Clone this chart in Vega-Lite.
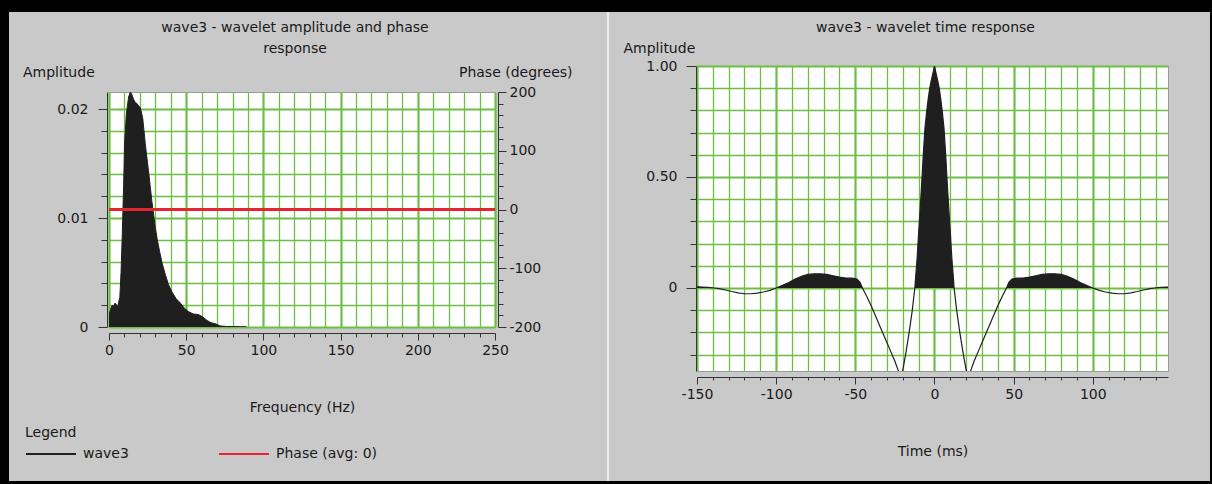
{
  "$schema": "https://vega.github.io/schema/vega-lite/v6.json",
  "background": "#c9c9c9",
  "padding": 0,
  "spacing": 0,
  "config": {
    "font": "DejaVu Sans",
    "view": {"fill": "white", "stroke": "#9a9a9a", "strokeWidth": 1},
    "axis": {
      "labelFont": "DejaVu Sans", "labelFontSize": 14, "labelColor": "#1a1a1a",
      "titleFont": "DejaVu Sans", "titleFontSize": 14, "titleFontWeight": "normal", "titleColor": "#1a1a1a",
      "domainColor": "#333333", "tickColor": "#333333", "gridColor": "#6cbf45", "gridOpacity": 1,
      "labelFlush": false, "labelOverlap": false, "tickCount": 200
    },
    "title": {"font": "DejaVu Sans", "fontSize": 14, "fontWeight": "normal", "color": "#1a1a1a"},
    "legend": {
      "titleFont": "DejaVu Sans", "titleFontSize": 14, "titleFontWeight": "normal", "titleColor": "#1a1a1a",
      "labelFont": "DejaVu Sans", "labelFontSize": 14, "labelColor": "#1a1a1a"
    }
  },
  "datasets": {
    "spectrum": [
      {"freq": 0, "amp": 0.0011}, {"freq": 1, "amp": 0.0016}, {"freq": 2, "amp": 0.002}, {"freq": 3, "amp": 0.0019},
      {"freq": 4, "amp": 0.0022}, {"freq": 5, "amp": 0.002}, {"freq": 5.6, "amp": 0.0018}, {"freq": 6.3, "amp": 0.0023},
      {"freq": 7, "amp": 0.0027}, {"freq": 7.8, "amp": 0.005}, {"freq": 8.6, "amp": 0.0085}, {"freq": 9.5, "amp": 0.0131},
      {"freq": 10.1, "amp": 0.0168}, {"freq": 11.2, "amp": 0.0195}, {"freq": 12.7, "amp": 0.0211}, {"freq": 13.8, "amp": 0.02156},
      {"freq": 14.6, "amp": 0.0214}, {"freq": 15.9, "amp": 0.0209}, {"freq": 17, "amp": 0.0206}, {"freq": 18.1, "amp": 0.0205},
      {"freq": 19.2, "amp": 0.0203}, {"freq": 20.3, "amp": 0.0201}, {"freq": 21.8, "amp": 0.0192}, {"freq": 22.6, "amp": 0.0181},
      {"freq": 23.5, "amp": 0.0168}, {"freq": 24.5, "amp": 0.0156}, {"freq": 25.6, "amp": 0.0143}, {"freq": 26.7, "amp": 0.0129},
      {"freq": 27.8, "amp": 0.0115}, {"freq": 29, "amp": 0.0102}, {"freq": 30, "amp": 0.0091}, {"freq": 31.3, "amp": 0.008},
      {"freq": 32.8, "amp": 0.0069}, {"freq": 34.5, "amp": 0.0058}, {"freq": 36.5, "amp": 0.0048}, {"freq": 38.5, "amp": 0.0039},
      {"freq": 40.8, "amp": 0.0032}, {"freq": 43.5, "amp": 0.0026}, {"freq": 46.2, "amp": 0.0022}, {"freq": 49, "amp": 0.0017},
      {"freq": 51.6, "amp": 0.0014}, {"freq": 54.5, "amp": 0.0012}, {"freq": 58, "amp": 0.00114}, {"freq": 61, "amp": 0.0009},
      {"freq": 63.5, "amp": 0.0006}, {"freq": 66, "amp": 0.0004}, {"freq": 68.8, "amp": 0.0003}, {"freq": 72, "amp": 0.0001},
      {"freq": 76, "amp": 0.00005}, {"freq": 80, "amp": 0.00004}, {"freq": 85, "amp": 0.00003}, {"freq": 89, "amp": 0.00002}
    ],
    "phase": [
      {"freq": 0, "phase": 0}, {"freq": 250, "phase": 0}
    ],
    "wavelet": [
      {"time": -150, "amp": 0.005}, {"time": -147, "amp": 0.004}, {"time": -143, "amp": 0.003}, {"time": -139, "amp": 0},
      {"time": -136, "amp": -0.003}, {"time": -132, "amp": -0.009}, {"time": -128, "amp": -0.016}, {"time": -124, "amp": -0.022},
      {"time": -120, "amp": -0.026}, {"time": -116, "amp": -0.026}, {"time": -112, "amp": -0.023}, {"time": -108, "amp": -0.018},
      {"time": -104, "amp": -0.011}, {"time": -100, "amp": 0}, {"time": -96, "amp": 0.012}, {"time": -92, "amp": 0.025},
      {"time": -88, "amp": 0.04}, {"time": -84, "amp": 0.052}, {"time": -80, "amp": 0.061}, {"time": -76, "amp": 0.064},
      {"time": -72, "amp": 0.064}, {"time": -68, "amp": 0.061}, {"time": -64, "amp": 0.055}, {"time": -60, "amp": 0.049},
      {"time": -56, "amp": 0.045}, {"time": -52, "amp": 0.044}, {"time": -49, "amp": 0.04}, {"time": -47, "amp": 0.025},
      {"time": -45.5, "amp": 0}, {"time": -43, "amp": -0.035}, {"time": -40, "amp": -0.08}, {"time": -37, "amp": -0.13},
      {"time": -34, "amp": -0.18}, {"time": -31, "amp": -0.23}, {"time": -28, "amp": -0.28}, {"time": -25, "amp": -0.33},
      {"time": -23, "amp": -0.37}, {"time": -21.5, "amp": -0.4}, {"time": -20, "amp": -0.37}, {"time": -18, "amp": -0.29},
      {"time": -16, "amp": -0.2}, {"time": -14, "amp": -0.1}, {"time": -12.4, "amp": 0}, {"time": -12, "amp": 0.04},
      {"time": -11, "amp": 0.13}, {"time": -10, "amp": 0.25}, {"time": -9, "amp": 0.36}, {"time": -8, "amp": 0.48},
      {"time": -7, "amp": 0.61}, {"time": -6, "amp": 0.72}, {"time": -5, "amp": 0.79}, {"time": -4, "amp": 0.85},
      {"time": -3, "amp": 0.9}, {"time": -2, "amp": 0.935}, {"time": -1, "amp": 0.967}, {"time": 0, "amp": 1.0},
      {"time": 1, "amp": 0.967}, {"time": 2, "amp": 0.935}, {"time": 3, "amp": 0.9}, {"time": 4, "amp": 0.85},
      {"time": 5, "amp": 0.79}, {"time": 6, "amp": 0.72}, {"time": 7, "amp": 0.61}, {"time": 8, "amp": 0.48},
      {"time": 9, "amp": 0.36}, {"time": 10, "amp": 0.25}, {"time": 11, "amp": 0.13}, {"time": 12, "amp": 0.04},
      {"time": 12.4, "amp": 0}, {"time": 14, "amp": -0.1}, {"time": 16, "amp": -0.2}, {"time": 18, "amp": -0.29},
      {"time": 20, "amp": -0.37}, {"time": 21.5, "amp": -0.4}, {"time": 23, "amp": -0.37}, {"time": 25, "amp": -0.33},
      {"time": 28, "amp": -0.28}, {"time": 31, "amp": -0.23}, {"time": 34, "amp": -0.18}, {"time": 37, "amp": -0.13},
      {"time": 40, "amp": -0.08}, {"time": 43, "amp": -0.035}, {"time": 45.5, "amp": 0}, {"time": 47, "amp": 0.025},
      {"time": 49, "amp": 0.04}, {"time": 52, "amp": 0.044}, {"time": 56, "amp": 0.045}, {"time": 60, "amp": 0.049},
      {"time": 64, "amp": 0.055}, {"time": 68, "amp": 0.061}, {"time": 72, "amp": 0.064}, {"time": 76, "amp": 0.064},
      {"time": 80, "amp": 0.061}, {"time": 84, "amp": 0.052}, {"time": 88, "amp": 0.04}, {"time": 92, "amp": 0.025},
      {"time": 96, "amp": 0.012}, {"time": 100, "amp": 0}, {"time": 104, "amp": -0.011}, {"time": 108, "amp": -0.018},
      {"time": 112, "amp": -0.023}, {"time": 116, "amp": -0.026}, {"time": 120, "amp": -0.026}, {"time": 124, "amp": -0.022},
      {"time": 128, "amp": -0.016}, {"time": 132, "amp": -0.009}, {"time": 136, "amp": -0.003}, {"time": 139, "amp": 0},
      {"time": 143, "amp": 0.003}, {"time": 147, "amp": 0.004}, {"time": 150, "amp": 0.005}
    ],
    "spacer": [{"k": 0}]
  },
  "vconcat": [
    {
      "width": 1212, "height": 12,
      "view": {"fill": "#000000", "stroke": null},
      "data": {"name": "spacer"},
      "mark": {"type": "point", "opacity": 0, "size": 0},
      "encoding": {}
    },
    {
      "spacing": 13,
      "hconcat": [
        {
          "width": 9, "height": 469,
          "view": {"fill": "#000000", "stroke": null},
          "data": {"name": "spacer"},
          "mark": {"type": "point", "opacity": 0, "size": 0},
          "encoding": {}
        },
        {
          "spacing": 0,
          "vconcat": [
            {
              "width": 484.5, "height": 7.5,
              "view": {"fill": null, "stroke": null},
              "data": {"name": "spacer"},
              "mark": {"type": "point", "opacity": 0, "size": 0},
              "encoding": {}
            },
            {
              "width": 386,
              "height": 235,
              "title": {"text": ["wave3 - wavelet amplitude and phase", "response"], "lineHeight": 21, "anchor": "middle", "frame": "group", "dx": -7, "offset": 10},
              "layer": [
                {
                  "data": {"name": "spectrum"},
                  "layer": [
                    {
                      "mark": {"type": "area", "color": "#1f1f1f", "clip": true},
                      "encoding": {
                        "x": {
                          "field": "freq", "type": "quantitative", "scale": {"domain": [0, 250], "nice": false},
                          "axis": {
                            "values": [0, 10, 20, 30, 40, 50, 60, 70, 80, 90, 100, 110, 120, 130, 140, 150, 160, 170, 180, 190, 200, 210, 220, 230, 240, 250],
                            "labelExpr": "datum.value % 50 === 0 ? '' + datum.value : ''",
                            "grid": true,
                            "gridWidth": {"condition": {"test": "datum.value % 50 === 0", "value": 2.2}, "value": 1.3},
                            "tickSize": {"condition": {"test": "datum.value % 50 === 0", "value": 7}, "value": 4},
                            "offset": 6, "labelPadding": 3,
                            "title": "Frequency (Hz)", "titlePadding": 43
                          }
                        },
                        "y": {
                          "field": "amp", "type": "quantitative", "scale": {"domain": [0, 0.02156], "nice": false},
                          "axis": {
                            "values": [0, 0.002, 0.004, 0.006, 0.008, 0.01, 0.012, 0.014, 0.016, 0.018, 0.02],
                            "labelExpr": "abs(datum.value * 100 - round(datum.value * 100)) < 0.001 ? (datum.value === 0 ? '0' : format(datum.value, '.2f')) : ''",
                            "grid": true,
                            "gridWidth": {"condition": {"test": "abs(datum.value * 100 - round(datum.value * 100)) < 0.001", "value": 2.2}, "value": 1.3},
                            "tickSize": {"condition": {"test": "abs(datum.value * 100 - round(datum.value * 100)) < 0.001", "value": 9}, "value": 6},
                            "offset": 2, "labelPadding": 10,
                            "title": "Amplitude", "titleAngle": 0, "titleAlign": "left", "titleBaseline": "alphabetic",
                            "titleX": -84.5, "titleY": -15.5
                          }
                        }
                      }
                    },
                    {
                      "mark": {"type": "line", "strokeWidth": 1, "clip": true},
                      "encoding": {
                        "x": {"field": "freq", "type": "quantitative"},
                        "y": {"field": "amp", "type": "quantitative"},
                        "stroke": {
                          "datum": "wave3", "type": "nominal",
                          "scale": {"domain": ["wave3", "Phase (avg: 0)"], "range": ["#1f1f1f", "#e5252f"]},
                          "legend": {
                            "orient": "none", "legendX": 25, "legendY": 426, "direction": "horizontal", "columns": 2, "columnPadding": 86,
                            "title": "Legend", "titlePadding": -12, "symbolType": "stroke", "symbolSize": 2500, "symbolStrokeWidth": 2, "labelOffset": 6
                          }
                        }
                      }
                    }
                  ]
                },
                {
                  "data": {"name": "phase"},
                  "mark": {"type": "line", "strokeWidth": 3},
                  "encoding": {
                    "x": {"field": "freq", "type": "quantitative"},
                    "y": {
                      "field": "phase", "type": "quantitative", "scale": {"domain": [-200, 200], "nice": false},
                      "axis": {
                        "orient": "right",
                        "values": [-200, -180, -160, -140, -120, -100, -80, -60, -40, -20, 0, 20, 40, 60, 80, 100, 120, 140, 160, 180, 200],
                        "labelExpr": "datum.value % 100 === 0 ? '' + datum.value : ''",
                        "grid": false,
                        "tickSize": {"condition": {"test": "datum.value % 100 === 0", "value": 8}, "value": 5},
                        "offset": 3, "labelPadding": 3,
                        "title": "Phase (degrees)", "titleAngle": 0, "titleAlign": "right", "titleBaseline": "alphabetic",
                        "titleX": 74, "titleY": -15.5
                      }
                    },
                    "stroke": {"datum": "Phase (avg: 0)", "type": "nominal"}
                  }
                }
              ],
              "resolve": {"scale": {"y": "independent"}, "axis": {"y": "independent"}}
            }
          ]
        },
        {
          "width": 2, "height": 469,
          "view": {"fill": "#ececec", "stroke": null},
          "data": {"name": "spacer"},
          "mark": {"type": "point", "opacity": 0, "size": 0},
          "encoding": {}
        },
        {
          "spacing": 0,
          "vconcat": [
            {
              "width": 499.5, "height": 7.5,
              "view": {"fill": null, "stroke": null},
              "data": {"name": "spacer"},
              "mark": {"type": "point", "opacity": 0, "size": 0},
              "encoding": {}
            },
            {
              "width": 471,
              "height": 305,
              "title": {"text": "wave3 - wavelet time response", "anchor": "middle", "frame": "group", "dx": -7, "offset": 6},
              "data": {"name": "wavelet"},
              "layer": [
                {
                  "transform": [{"filter": "datum.amp >= 0"}],
                  "mark": {"type": "area", "color": "#1f1f1f", "clip": true},
                  "encoding": {
                    "x": {
                      "field": "time", "type": "quantitative", "scale": {"domain": [-150, 147.5], "nice": false},
                      "axis": {
                        "values": [-150, -140, -130, -120, -110, -100, -90, -80, -70, -60, -50, -40, -30, -20, -10, 0, 10, 20, 30, 40, 50, 60, 70, 80, 90, 100, 110, 120, 130, 140],
                        "labelExpr": "datum.value % 50 === 0 ? '' + datum.value : ''",
                        "grid": true,
                        "gridWidth": {"condition": {"test": "datum.value % 50 === 0", "value": 2.2}, "value": 1.3},
                        "tickSize": {"condition": {"test": "datum.value % 50 === 0", "value": 7}, "value": 3},
                        "offset": 6, "labelPadding": 3,
                        "title": "Time (ms)", "titlePadding": 43
                      }
                    },
                    "y": {
                      "field": "amp", "type": "quantitative", "scale": {"domain": [-0.374, 1.0], "nice": false},
                      "axis": {
                        "values": [-0.3, -0.2, -0.1, 0, 0.1, 0.2, 0.3, 0.4, 0.5, 0.6, 0.7, 0.8, 0.9, 1.0],
                        "labelExpr": "abs(datum.value * 2 - round(datum.value * 2)) < 0.001 ? (abs(datum.value) < 0.0001 ? '0' : format(datum.value, '.2f')) : ''",
                        "grid": true,
                        "gridWidth": {"condition": {"test": "abs(datum.value * 2 - round(datum.value * 2)) < 0.001", "value": 2.2}, "value": 1.3},
                        "tickSize": {"condition": {"test": "abs(datum.value * 2 - round(datum.value * 2)) < 0.001", "value": 10}, "value": 6},
                        "offset": 1, "labelPadding": 9,
                        "title": "Amplitude", "titleAngle": 0, "titleAlign": "left", "titleBaseline": "alphabetic",
                        "titleX": -73, "titleY": -14
                      }
                    }
                  }
                },
                {
                  "mark": {"type": "line", "color": "#1f1f1f", "strokeWidth": 1.2, "clip": true},
                  "encoding": {
                    "x": {"field": "time", "type": "quantitative"},
                    "y": {"field": "amp", "type": "quantitative"}
                  }
                }
              ]
            }
          ]
        },
        {
          "width": 5, "height": 469,
          "view": {"fill": "#000000", "stroke": null},
          "data": {"name": "spacer"},
          "mark": {"type": "point", "opacity": 0, "size": 0},
          "encoding": {}
        }
      ]
    },
    {
      "width": 1212, "height": 4,
      "view": {"fill": "#000000", "stroke": null},
      "data": {"name": "spacer"},
      "mark": {"type": "point", "opacity": 0, "size": 0},
      "encoding": {}
    }
  ]
}
